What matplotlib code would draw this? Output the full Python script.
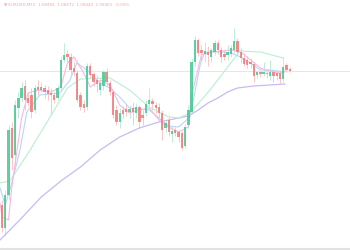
import numpy as np
import matplotlib
matplotlib.use("Agg")
import matplotlib.pyplot as plt

# candle data (arbitrary price units)
opens = [45, 22, 55, 122, 95, 142, 152, 164, 152, 155, 140, 163, 160, 162, 160, 157, 155, 152, 162, 190,
         196, 193, 182, 177, 155, 146, 143, 184, 176, 170, 160, 164, 178, 167, 158, 140, 128, 140, 141, 138,
         142, 137, 143, 135, 137, 146, 149, 145, 143, 137, 122, 130, 116, 120, 118, 117, 104, 125, 138, 188,
         210, 200, 196, 198, 193, 198, 207, 200, 196, 195, 196, 200, 209, 198, 192, 190, 188, 186, 175, 178,
         176, 177, 174, 178, 177, 177, 171, 185, 181]
closes = [22, 55, 120, 92, 145, 152, 162, 150, 147, 138, 162, 160, 163, 158, 156, 155, 150, 162, 190, 195,
          193, 180, 178, 150, 143, 142, 184, 175, 168, 166, 167, 178, 168, 158, 135, 128, 137, 136, 138, 141,
          138, 143, 128, 132, 146, 150, 146, 142, 137, 120, 127, 118, 119, 117, 113, 102, 123, 140, 188, 210,
          197, 197, 199, 195, 200, 207, 200, 193, 193, 198, 202, 209, 198, 192, 186, 185, 186, 174, 178, 176,
          178, 176, 178, 174, 174, 171, 183, 180, 179]
highs = [50, 60, 125, 128, 150, 158, 168, 170, 158, 162, 165, 170, 168, 165, 164, 162, 158, 165, 194, 207,
         200, 197, 188, 180, 158, 150, 187, 187, 178, 175, 170, 180, 182, 170, 160, 145, 142, 144, 146, 145,
         148, 147, 145, 140, 150, 162, 152, 148, 147, 140, 130, 134, 124, 123, 120, 119, 126, 145, 192, 214,
         212, 205, 208, 204, 202, 210, 210, 203, 200, 205, 205, 222, 212, 202, 197, 194, 192, 188, 180, 180,
         188, 180, 190, 180, 180, 180, 193, 187, 183]
lows = [18, 14, 50, 80, 85, 132, 148, 140, 144, 132, 137, 155, 158, 152, 150, 135, 147, 150, 160, 188,
        188, 175, 174, 148, 140, 138, 140, 172, 164, 158, 155, 160, 164, 155, 132, 125, 122, 132, 134, 132,
        125, 132, 122, 125, 134, 144, 140, 137, 132, 110, 118, 114, 108, 114, 108, 100, 102, 122, 136, 184,
        194, 190, 188, 184, 188, 195, 196, 188, 190, 190, 193, 197, 194, 187, 184, 182, 182, 168, 172, 173,
        174, 172, 170, 168, 170, 167, 168, 178, 178]

# moving average lines (candle index, value)
ma_fast_x = [-0.6, 0, 2, 3, 6, 8, 11, 15, 18, 20, 22, 25, 27, 30, 33, 36, 39, 42, 45, 48, 51, 54, 57, 58, 61,
             64, 70, 73, 76, 79, 82, 85, 86.5]
ma_fast_y = [47, 33, 30, 63, 132, 157, 160, 158, 163, 187, 193, 177, 163, 170, 165, 145, 137, 140, 142, 130,
             123, 118, 123, 155, 195, 198, 200, 198, 190, 182, 179, 177, 179]
ma_mid_x = [-0.6, 1, 3, 5.5, 7.6, 11.6, 17.7, 20.8, 22.9, 26, 30, 33, 36, 39, 45, 48, 51, 54, 57.5, 60.6, 62,
            67, 70, 73, 76, 79, 82, 86.5]
ma_mid_y = [62, 45, 67, 100, 138, 155, 157, 170, 187, 180, 167, 162, 153, 142, 140, 132, 124, 123, 133, 185,
            198, 198, 197, 193, 187, 180, 180, 178]
ma_slow_x = [-0.6, 2.4, 8.6, 14.7, 20, 24, 33, 39, 45, 51, 54, 57.5, 63.6, 69.7, 72.8, 79, 86]
ma_slow_y = [67, 69, 100, 133, 162, 171, 172, 160, 143, 133, 132, 137, 160, 186, 199, 198, 192]
ma_long_x = [-0.6, 6, 12, 18, 24, 30, 36, 42, 48, 54, 57, 60, 63, 66, 69, 72, 77, 86.5]
ma_long_y = [10, 32, 53, 69, 83, 100, 113, 122, 128, 132, 134, 140, 147, 152, 158, 162, 164, 166]

last_price = 179
header = "\u25bc EURUSD,M15  1.08456  1.08472  1.08440  1.08461  -0.05%"

up_col = "#46c893"
dn_col = "#f27a7a"
up_wick = "#bdeed9"
dn_wick = "#f9c8c8"

fig = plt.figure(figsize=(3.5, 2.5), dpi=100)
ax = fig.add_axes([0, 0, 1, 1])
ax.set_xlim(-2 / 3.27, 348 / 3.27)
ax.set_ylim(0, 250)
ax.axis("off")

o = np.array(opens)
c = np.array(closes)
h = np.array(highs)
l = np.array(lows)
x = np.arange(len(o))
up = c >= o

ax.axhline(last_price, color="#fbd6dc", lw=0.6, zorder=1)

ax.vlines(x[up], l[up], h[up], color=up_wick, lw=0.7, zorder=2)
ax.vlines(x[~up], l[~up], h[~up], color=dn_wick, lw=0.7, zorder=2)

ax.plot(ma_long_x, ma_long_y, color="#c8baf5", lw=0.9, zorder=3)
ax.plot(ma_slow_x, ma_slow_y, color="#b8f0d2", lw=0.8, zorder=3)
ax.plot(ma_mid_x, ma_mid_y, color="#bad5f7", lw=0.8, zorder=3)
ax.plot(ma_fast_x, ma_fast_y, color="#f7b8de", lw=0.8, zorder=3)

bottom = np.minimum(o, c)
height = np.maximum(np.abs(c - o), 1)
ax.bar(x[up], height[up], bottom=bottom[up], width=0.72, color=up_col, alpha=0.85, zorder=4)
ax.bar(x[~up], height[~up], bottom=bottom[~up], width=0.72, color=dn_col, alpha=0.85, zorder=4)

ax.axhline(1.2, color="#e2e2e2", lw=1.5, zorder=5)
ax.text(0.5, 245, header, fontsize=3, color="#f4a8a8", va="center", ha="left")

fig.savefig("out.png", dpi=100)
